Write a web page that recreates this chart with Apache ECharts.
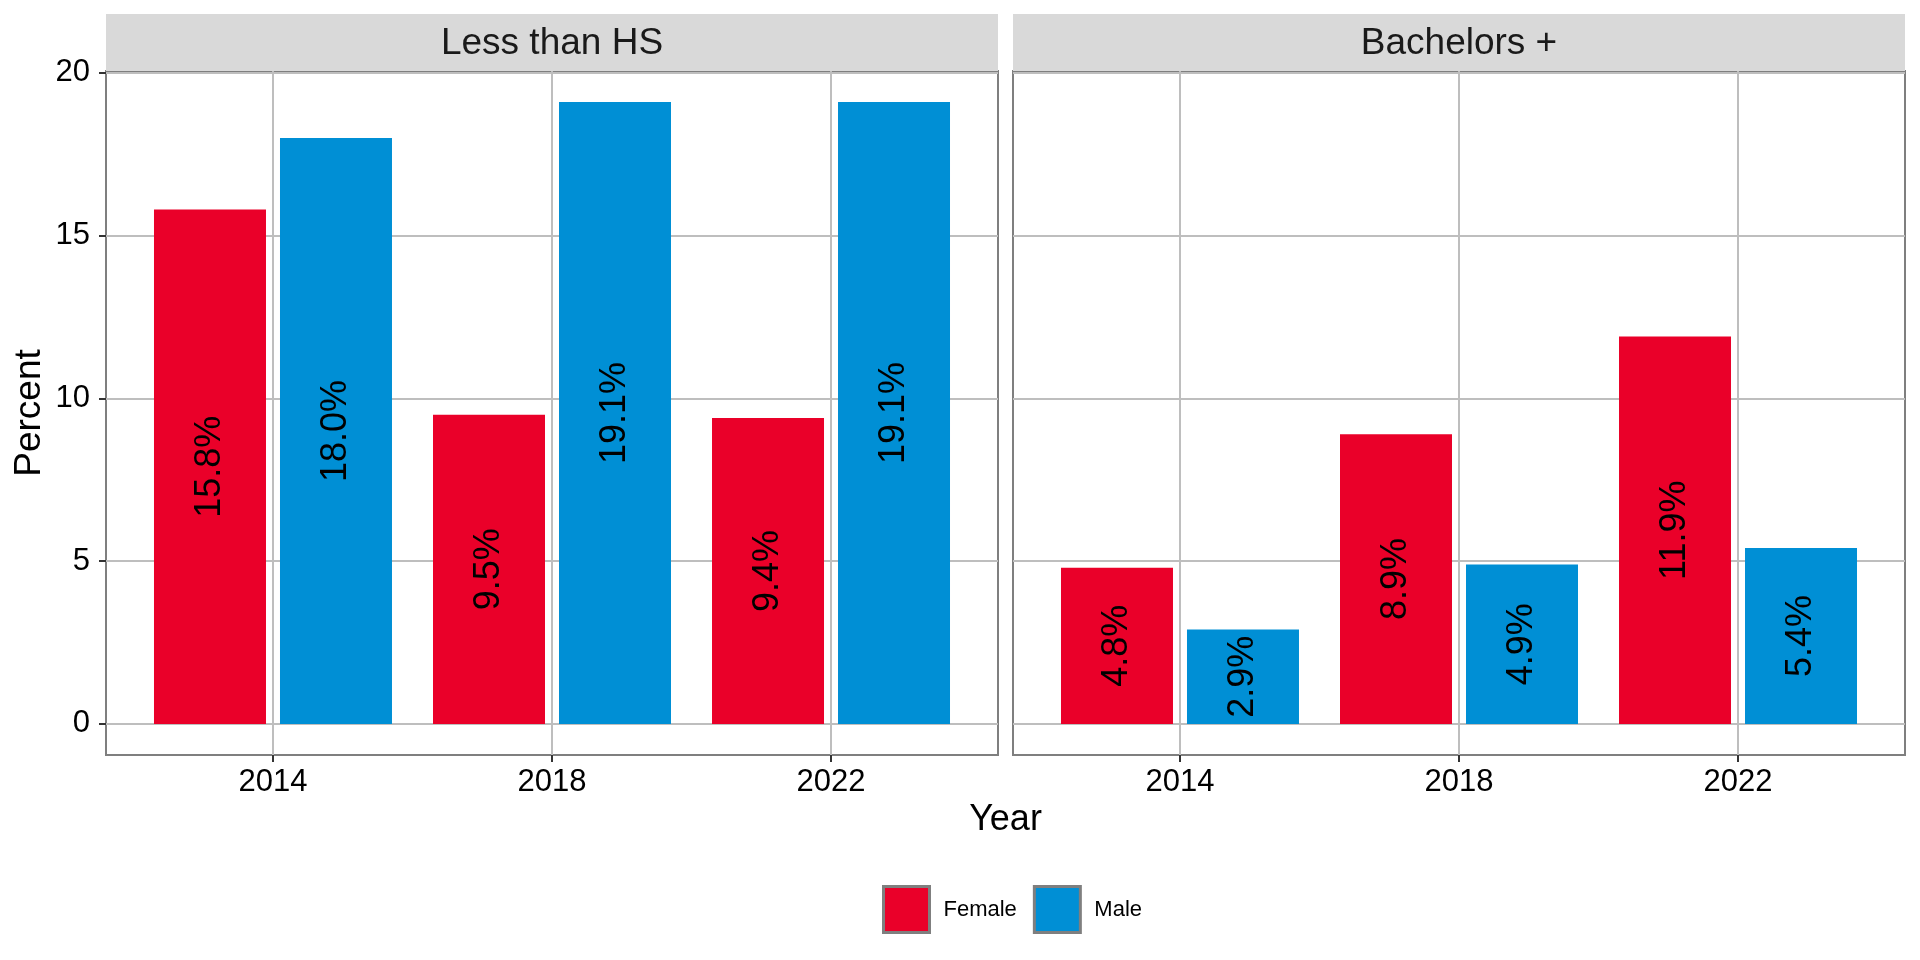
<!DOCTYPE html>
<html>
<head>
<meta charset="utf-8">
<script src="https://cdn.jsdelivr.net/npm/echarts@6/dist/echarts.min.js"></script>
<style>
html,body{margin:0;padding:0;background:#fff;}
#chart{width:1920px;height:960px;}
</style>
</head>
<body>
<div id="chart"></div>
<script>
// ---- data ----
const panels = ['Less than HS', 'Bachelors +'];
const years = [2014, 2018, 2022];
const genders = ['Female', 'Male'];
const lessHS_female = [15.8, 9.5, 9.4];
const lessHS_male = [18.0, 19.1, 19.1];
const bach_female = [4.8, 8.9, 11.9];
const bach_male = [2.9, 4.9, 5.4];
const yTicks = [0, 5, 10, 15, 20];
const xTicks = [2014, 2018, 2022];

// ---- layout / style ----
const FONT = 'Liberation Sans, Arial, sans-serif';
const colors = { Female: '#EA0029', Male: '#008FD5' };
const panelBoxes = [
  { left: 106, width: 892 },
  { left: 1013, width: 892 }
];
const gridTop = 71, gridBottomY = 755;
const stripTop = 14;

const chart = echarts.init(document.getElementById('chart'), null, { renderer: 'canvas' });

const grids = panelBoxes.map(p => ({
  left: p.left, top: gridTop, width: p.width, height: gridBottomY - gridTop,
  show: true, borderColor: '#7F7F7F', borderWidth: 2, backgroundColor: 'transparent',
  containLabel: false
}));

const xAxes = panelBoxes.map((p, i) => ({
  type: 'value', gridIndex: i, position: 'bottom',
  min: 2011.606, max: 2024.394,
  axisLine: { show: false, onZero: false },
  axisTick: { show: true, length: 7, customValues: xTicks, lineStyle: { color: '#333333', width: 2 } },
  axisLabel: { show: true, customValues: xTicks, margin: 12, fontSize: 31, color: '#000', fontFamily: FONT,
    formatter: v => String(v) },
  splitLine: { show: true, customValues: xTicks, lineStyle: { color: '#BEBEBE', width: 2 } }
}));

const yAxes = panelBoxes.map((p, i) => ({
  type: 'value', gridIndex: i, position: 'left',
  min: -0.955, max: 20.055,
  axisLine: { show: false, onZero: false },
  axisTick: { show: i === 0, length: 7, customValues: yTicks, lineStyle: { color: '#333333', width: 2 } },
  axisLabel: { show: i === 0, customValues: yTicks, margin: 16, fontSize: 31, color: '#000', fontFamily: FONT },
  splitLine: { show: true, customValues: yTicks, lineStyle: { color: '#BEBEBE', width: 2 } },
  name: i === 0 ? 'Percent' : '',
  nameLocation: 'middle', nameRotate: 90, nameGap: 58,
  nameTextStyle: { fontSize: 37, color: '#000', fontFamily: FONT }
}));

const panelData = [
  { Female: lessHS_female, Male: lessHS_male },
  { Female: bach_female, Male: bach_male }
];

const series = [];
panelData.forEach((pd, i) => {
  genders.forEach(g => {
    series.push({
      type: 'bar', name: g,
      xAxisIndex: i, yAxisIndex: i,
      barWidth: 112, barGap: '12.5%',
      itemStyle: { color: colors[g] },
      data: years.map((y, k) => [y, pd[g][k]]),
      label: {
        show: true, position: 'inside', rotate: 90,
        fontSize: 36, color: '#000', fontFamily: FONT,
        formatter: p => p.value[1].toFixed(1) + '%'
      },
      emphasis: { disabled: true },
      z: 3
    });
  });
});

const graphics = [];
panelBoxes.forEach((p, i) => {
  graphics.push({
    type: 'rect', z: 0,
    shape: { x: p.left, y: stripTop, width: p.width, height: gridTop - stripTop },
    style: { fill: '#D9D9D9' }
  });
  graphics.push({
    type: 'text', z: 1,
    x: p.left + p.width / 2, y: (stripTop + gridTop) / 2 + 1,
    style: { text: panels[i], fontSize: 37, fontFamily: FONT, fill: '#1A1A1A', align: 'center', verticalAlign: 'middle' }
  });
});
graphics.push({
  type: 'text', z: 1,
  x: (panelBoxes[0].left + panelBoxes[1].left + panelBoxes[1].width) / 2, y: 820,
  style: { text: 'Year', fontSize: 36, fontFamily: FONT, fill: '#000', align: 'center', verticalAlign: 'middle' }
});

chart.setOption({
  animation: false,
  backgroundColor: '#fff',
  grid: grids,
  xAxis: xAxes,
  yAxis: yAxes,
  series: series,
  legend: {
    data: genders,
    left: 877, top: 880,
    itemWidth: 46, itemHeight: 46, itemGap: 16,
    icon: 'rect',
    itemStyle: { borderColor: '#7F7F7F', borderWidth: 3 },
    textStyle: { fontSize: 22, color: '#000', fontFamily: FONT, padding: [0, 0, 0, 9] },
    selectedMode: false
  },
  graphic: graphics
});
</script>
</body>
</html>
